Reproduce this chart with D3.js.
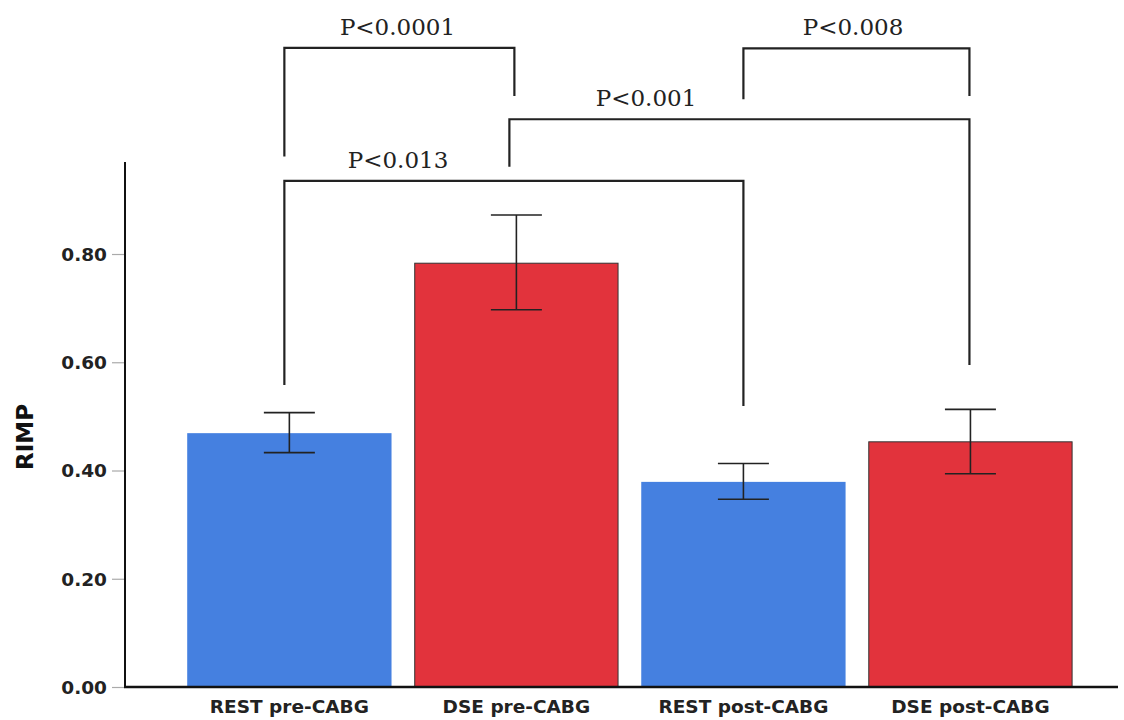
<!DOCTYPE html>
<html>
<head>
<meta charset="utf-8">
<script src="https://cdn.jsdelivr.net/npm/d3@7/dist/d3.min.js"></script>
<style>
  html, body { margin: 0; padding: 0; background: #fff; }
  svg { display: block; }
</style>
</head>
<body>
<svg id="chart" width="1124" height="720"></svg>
<script>
// ---- data ----
const categories = ["REST pre-CABG", "DSE pre-CABG", "REST post-CABG", "DSE post-CABG"];
const means = [0.469, 0.783, 0.379, 0.453];
const errLow = [0.433, 0.697, 0.347, 0.394];
const errHigh = [0.507, 0.872, 0.413, 0.513];
const barGroup = ["REST", "DSE", "REST", "DSE"];
const yTicks = [0, 0.2, 0.4, 0.6, 0.8];
const yLabel = "RIMP";
// significance brackets: from/to category index, p-label
const bracketFrom = [0, 0, 1, 2];
const bracketTo = [1, 2, 3, 3];
const bracketLabels = ["P<0.0001", "P<0.013", "P<0.001", "P<0.008"];
// bracket levels in value units (top, left leg end, right leg end)
const bracketTop = [1.181, 0.935, 1.049, 1.180];
const bracketLeftEnd = [0.980, 0.558, 0.961, 1.086];
const bracketRightEnd = [1.092, 0.519, 0.595, 1.092];

// ---- layout ----
const svg = d3.select("#chart");
const axisX = 125, axisRight = 1118;
const y = d3.scaleLinear().domain([0, 0.97]).range([687, 162]);
const x = d3.scaleBand().domain(categories).range([164.5, 1095.3]).paddingInner(0.1).paddingOuter(0.1);
const color = d3.scaleOrdinal().domain(["REST", "DSE"]).range(["#4580E0", "#E2333C"]);

// bars
svg.append("g").selectAll("rect").data(categories).join("rect")
  .attr("x", (d, i) => x(d) + (barGroup[i] === "DSE" ? 0.5 : 0))
  .attr("y", (d, i) => y(means[i]))
  .attr("width", (d, i) => x.bandwidth() - (barGroup[i] === "DSE" ? 1 : 0))
  .attr("height", (d, i) => y(0) - y(means[i]))
  .attr("fill", (d, i) => color(barGroup[i]))
  .attr("stroke", (d, i) => barGroup[i] === "DSE" ? "#333" : "none")
  .attr("stroke-width", 1);

// error bars
const eb = svg.append("g").attr("stroke", "#222").attr("stroke-width", 1.6).attr("fill", "none");
categories.forEach((c, i) => {
  const cx = x(c) + x.bandwidth() / 2;
  eb.append("line").attr("x1", cx).attr("x2", cx).attr("y1", y(errLow[i])).attr("y2", y(errHigh[i]));
  eb.append("line").attr("x1", cx - 25.5).attr("x2", cx + 25.5).attr("y1", y(errLow[i])).attr("y2", y(errLow[i]));
  eb.append("line").attr("x1", cx - 25.5).attr("x2", cx + 25.5).attr("y1", y(errHigh[i])).attr("y2", y(errHigh[i]));
});

// y axis
const yAxis = d3.axisLeft(y).tickValues(yTicks).tickFormat(d3.format(".2f")).tickSize(13).tickPadding(5);
const yg = svg.append("g").attr("transform", `translate(${axisX},0)`).call(yAxis);
yg.select(".domain").remove();
yg.selectAll(".tick line").attr("stroke", "#aaa").attr("stroke-width", 1.2);
yg.selectAll(".tick text")
  .attr("font-family", "'DejaVu Sans', Verdana, sans-serif")
  .attr("font-weight", "bold").attr("font-size", 18.5).attr("fill", "#222").attr("dy", "0.35em");
svg.append("line").attr("x1", axisX).attr("x2", axisX).attr("y1", y(0.97)).attr("y2", y(0) + 1)
  .attr("stroke", "#111").attr("stroke-width", 2);

// x axis
svg.append("line").attr("x1", axisX - 1).attr("x2", axisRight).attr("y1", y(0)).attr("y2", y(0))
  .attr("stroke", "#111").attr("stroke-width", 2.5);
const xAxis = d3.axisBottom(x).tickSize(0).tickPadding(0);
const xg = svg.append("g").attr("transform", `translate(0,${y(0)})`).call(xAxis);
xg.select(".domain").remove();
xg.selectAll(".tick text")
  .attr("font-family", "'DejaVu Sans', Verdana, sans-serif")
  .attr("font-weight", "bold").attr("font-size", 18.5).attr("fill", "#222")
  .attr("y", 26).attr("dy", 0);

// y label
svg.append("text").attr("transform", `translate(33,437) rotate(-90)`)
  .attr("text-anchor", "middle")
  .attr("font-family", "'DejaVu Sans', Verdana, sans-serif").attr("font-weight", "bold")
  .attr("font-size", 23).attr("fill", "#111").text(yLabel);

// brackets
const legOffL = [-5, -5, -7, 0];
const legOffR = [-2, 0, -1, -1];
const textX = [397.5, 398, 646, 853];
const bg = svg.append("g");
bracketLabels.forEach((lab, i) => {
  const x1 = x(categories[bracketFrom[i]]) + x.bandwidth() / 2 + legOffL[i];
  const x2 = x(categories[bracketTo[i]]) + x.bandwidth() / 2 + legOffR[i];
  const top = y(bracketTop[i]);
  bg.append("path")
    .attr("d", `M${x1},${y(bracketLeftEnd[i])}V${top}H${x2}V${y(bracketRightEnd[i])}`)
    .attr("fill", "none").attr("stroke", "#222").attr("stroke-width", 2.2);
  bg.append("text").attr("x", textX[i]).attr("y", top - 13)
    .attr("text-anchor", "middle")
    .attr("font-family", "'DejaVu Serif', serif").attr("font-size", 23)
    .attr("fill", "#222").text(lab);
});
</script>
</body>
</html>
